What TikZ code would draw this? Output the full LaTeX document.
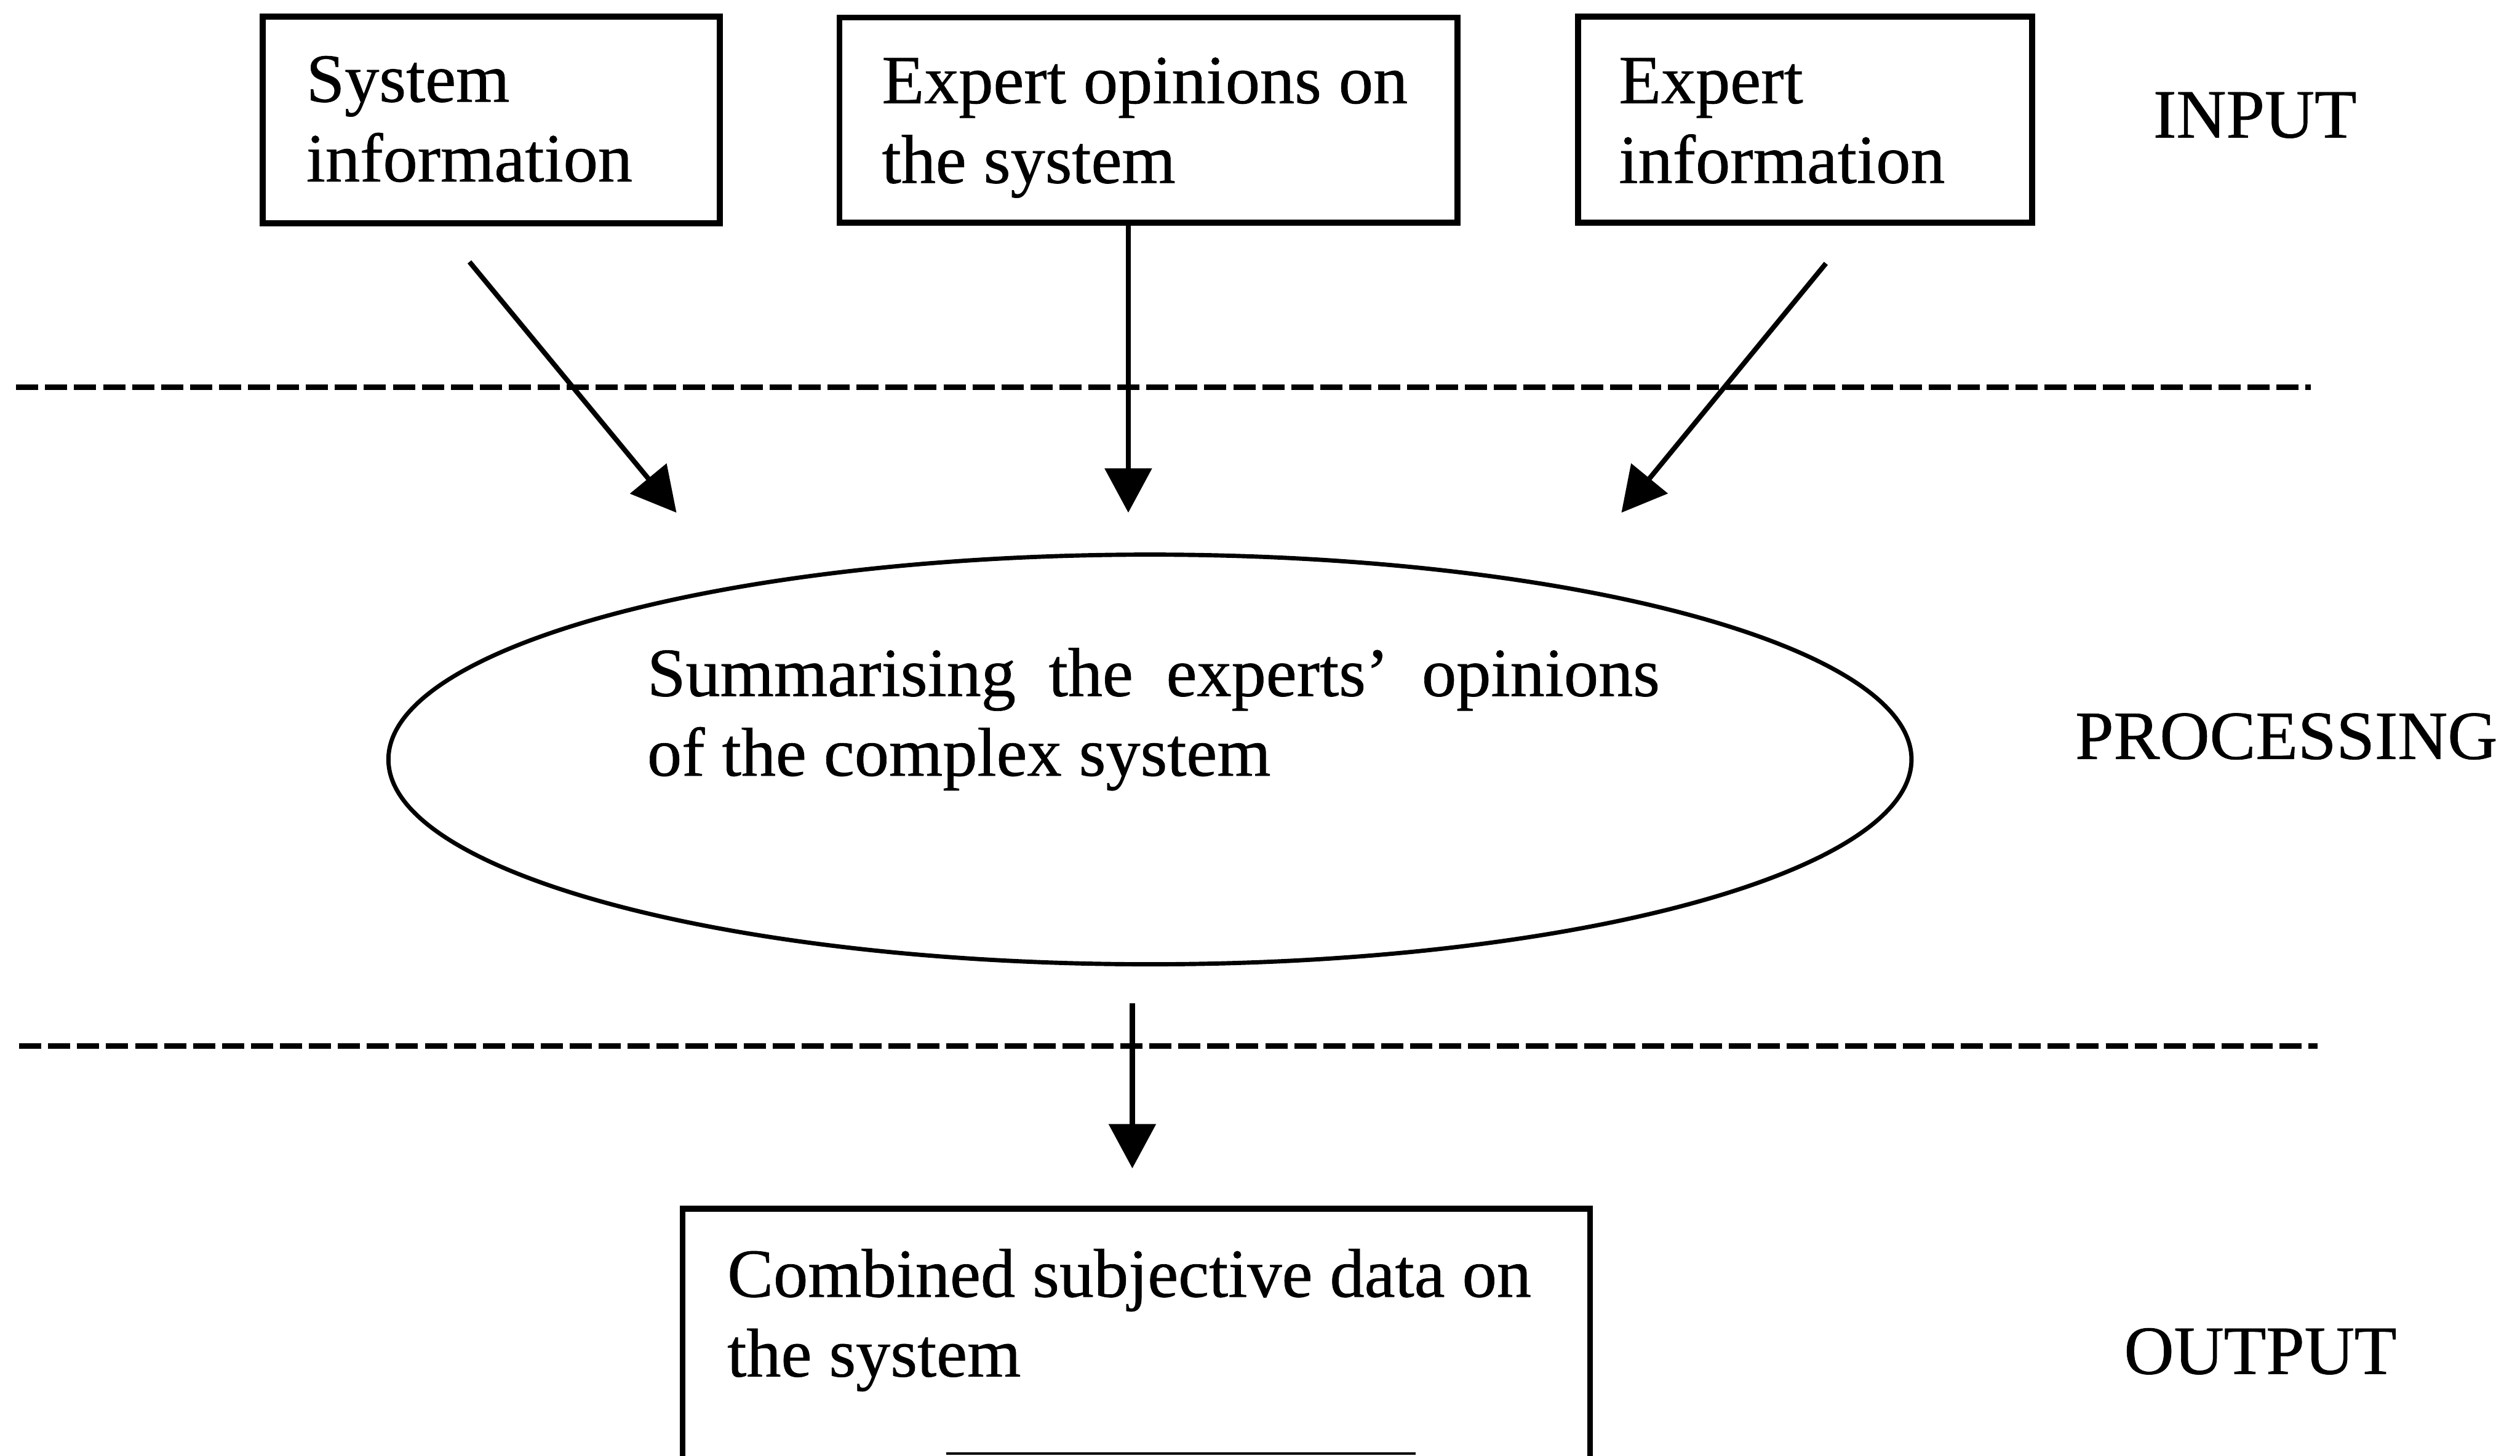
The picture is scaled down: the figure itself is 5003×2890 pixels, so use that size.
\documentclass[tikz,border=0pt]{standalone}
\usepackage{fontspec}
\setmainfont{Liberation Serif}[FakeBold=0.6]
\usetikzlibrary{arrows.meta,shapes.geometric}
\begin{document}
\begin{tikzpicture}[x=0.01cm,y=-0.01cm,
  every node/.style={inner sep=0pt,outer sep=0pt},
  txt/.style={anchor=base west,font=\fontsize{39}{45}\selectfont},
  boxnode/.style={draw,rectangle,line width=3.3pt},
  procnode/.style={draw,ellipse,line width=2.4pt},
  arr/.style={line width=2.8pt,-{Triangle[length=0.88cm,width=0.92cm]}},
  divider/.style={line width=3.1pt,dash pattern=on 0.44cm off 0.135cm}]
\useasboundingbox (0,0) rectangle (5003,2890);
\clip (0,0) rectangle (5003,2890);

% input boxes
\node[boxnode,minimum width=9.07cm,minimum height=4.10cm] (box1) at (975.5,238) {};
\node[boxnode,minimum width=12.26cm,minimum height=4.07cm] (box2) at (2280,238.5) {};
\node[boxnode,minimum width=9.01cm,minimum height=4.09cm] (box3) at (3583.5,237.5) {};

\node[txt] (t1) at (608,202) {\begin{tabular}[t]{@{}l@{}}System\\information\end{tabular}};
\node[txt] (t2) at (1751,205) {\begin{tabular}[t]{@{}l@{}}Expert opinions on\\the system\end{tabular}};
\node[txt] (t3) at (3214,205) {\begin{tabular}[t]{@{}l@{}}Expert\\information\end{tabular}};

% stage labels
\node[txt] (lin) at (4275,273) {INPUT};
\node[txt] (lproc) at (4120,1507) {PROCESSING};
\node[txt] (lout) at (4217,2728) {OUTPUT};

% stage dividers
\coordinate (d1a) at (32,769);
\coordinate (d1b) at (4588,769);
\coordinate (d2a) at (38,2077);
\coordinate (d2b) at (4601,2077);
\draw[divider] (d1a) -- (d1b);
\draw[divider] (d2a) -- (d2b);

% processing ellipse
\node[procnode,minimum width=30.22cm,minimum height=8.13cm] (proc) at (2283,1508) {};
\node[txt] (tp) at (1285,1382) {\parbox[t]{20.09cm}{Summarising the experts’ opinions\linebreak of the complex system}};

% output box
\coordinate (ob1) at (1355,3000);
\coordinate (ob2) at (3157,2400);
\draw[line width=3.3pt] (ob1) rectangle (ob2);
\node[txt] (to) at (1444,2575) {\begin{tabular}[t]{@{}l@{}}Combined subjective data on\\the system\end{tabular}};
\coordinate (ul1) at (1878,2886);
\coordinate (ul2) at (2810,2886);
\draw[line width=1.5pt] (ul1) -- (ul2);

% arrows
\coordinate (a1s) at (932,520);
\coordinate (a1e) at (1343,1018);
\coordinate (a2s) at (2240,442);
\coordinate (a2e) at (2240,1018);
\coordinate (a3s) at (3625,523);
\coordinate (a3e) at (3219,1018);
\coordinate (a4s) at (2248,1992);
\coordinate (a4e) at (2248,2320);
\draw[arr] (a1s) -- (a1e);
\draw[arr] (a2s) -- (a2e);
\draw[arr] (a3s) -- (a3e);
\draw[arr] (a4s) -- (a4e);
\end{tikzpicture}
\end{document}
